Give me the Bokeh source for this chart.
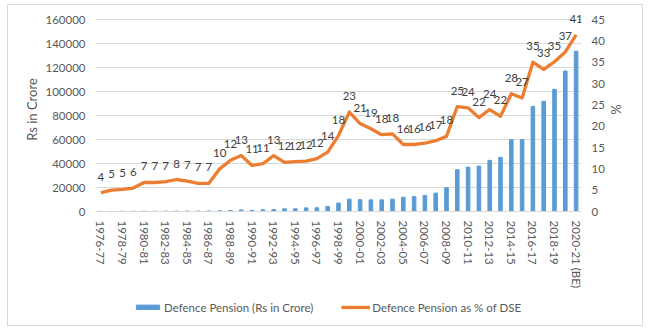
from bokeh.plotting import figure
from bokeh.layouts import column
from bokeh.models import (Range1d, LinearAxis, FixedTicker, Legend, LegendItem,
                          BasicTickFormatter)
from bokeh.core.properties import value
from bokeh.embed import file_html
from bokeh.resources import INLINE

years = ["1976-77", "1977-78", "1978-79", "1979-80", "1980-81", "1981-82", "1982-83",
         "1983-84", "1984-85", "1985-86", "1986-87", "1987-88", "1988-89", "1989-90",
         "1990-91", "1991-92", "1992-93", "1993-94", "1994-95", "1995-96", "1996-97",
         "1997-98", "1998-99", "1999-00", "2000-01", "2001-02", "2002-03", "2003-04",
         "2004-05", "2005-06", "2006-07", "2007-08", "2008-09", "2009-10", "2010-11",
         "2011-12", "2012-13", "2013-14", "2014-15", "2015-16", "2016-17", "2017-18",
         "2018-19", "2019-20", "2020-21 (BE)"]

pension = [120, 140, 160, 180, 210, 240, 270, 310, 360, 400,
           450, 600, 800, 1300, 1000, 1400, 1700, 2200, 2300, 3000,
           3100, 4200, 7000, 10300, 9800, 9700, 9700, 10300, 11900, 12400,
           13400, 15300, 19800, 34800, 37000, 37800, 42600, 45100, 59800, 59900,
           87600, 91800, 101800, 117100, 133600]

pct = [4.4, 5.0, 5.2, 5.5, 6.8, 6.8, 7.0, 7.5, 7.1, 6.6,
       6.6, 10.0, 12.0, 13.1, 10.8, 11.2, 13.1, 11.5, 11.7, 11.8,
       12.4, 13.9, 17.8, 23.3, 20.6, 19.4, 18.0, 18.2, 15.7, 15.7,
       16.0, 16.6, 17.6, 24.6, 24.3, 22.0, 23.9, 22.3, 27.6, 26.6,
       35.0, 33.3, 35.1, 37.4, 41.4]

left_ticks = [0, 20000, 40000, 60000, 80000, 100000, 120000, 140000, 160000]
right_ticks = [0, 5, 10, 15, 20, 25, 30, 35, 40, 45]

pct_labels = [str(int(v + 0.5)) for v in pct]
xpos = list(range(len(years)))

FONT = "Lato"
BLUE = "#5B9BD5"
ORANGE = "#ED7D31"
TXT = "#595959"

LEFT_MAX = 170000
RIGHT_MAX = 45 * LEFT_MAX / 160000

p = figure(width=634, height=288, x_range=Range1d(-0.5, len(years) - 0.5),
           y_range=Range1d(0, LEFT_MAX), output_backend="svg", toolbar_location=None,
           min_border_left=87, min_border_right=61, min_border_top=2, min_border_bottom=82)
p.extra_y_ranges = {"pct": Range1d(0, RIGHT_MAX)}
p.outline_line_color = None
p.background_fill_color = "white"

bars = p.vbar(x=xpos, top=pension, width=0.33, color=BLUE)
line = p.line(x=xpos, y=pct, y_range_name="pct", line_color=ORANGE, line_width=3.3,
              line_join="round")
p.text(x=xpos, y=pct, text=pct_labels, y_range_name="pct", text_align="center",
       text_baseline="middle", y_offset=-16, text_font=value(FONT),
       text_font_size="11.5px", text_color="#404040")

# left axis
ya = p.yaxis[0]
ya.ticker = FixedTicker(ticks=left_ticks)
ya.formatter = BasicTickFormatter(use_scientific=False)
ya.axis_label = "Rs in Crore"
ya.axis_label_text_font = FONT
ya.axis_label_text_font_size = "13px"
ya.axis_label_text_font_style = "normal"
ya.axis_label_text_color = TXT
ya.axis_label_standoff = 2
ya.major_label_text_font = FONT
ya.major_label_text_font_size = "11.5px"
ya.major_label_text_color = TXT
ya.major_label_standoff = 10
ya.axis_line_color = None
ya.major_tick_line_color = None
ya.minor_tick_line_color = None
ya.major_tick_out = 0
ya.minor_tick_out = 0

# right axis
ra = LinearAxis(y_range_name="pct", ticker=FixedTicker(ticks=right_ticks), axis_label="%")
ra.axis_label_text_font = FONT
ra.axis_label_text_font_size = "13px"
ra.axis_label_text_font_style = "normal"
ra.axis_label_text_color = TXT
ra.axis_label_standoff = 0
ra.major_label_text_font = FONT
ra.major_label_text_font_size = "11.5px"
ra.major_label_text_color = TXT
ra.major_label_standoff = 10
ra.axis_line_color = None
ra.major_tick_line_color = None
ra.minor_tick_line_color = None
ra.major_tick_out = 0
ra.minor_tick_out = 0
p.add_layout(ra, "right")

# x axis: every other year labelled
xa = p.xaxis[0]
xa.ticker = FixedTicker(ticks=xpos[::2])
xa.major_label_overrides = {i: years[i] for i in xpos}
xa.major_label_orientation = "vertical"
xa.major_label_text_font = FONT
xa.major_label_text_font_size = "11.5px"
xa.major_label_text_color = TXT
xa.major_label_standoff = 9
xa.axis_line_color = "#d9d9d9"
xa.major_tick_line_color = None
xa.minor_tick_line_color = None
xa.major_tick_out = 0
xa.minor_tick_out = 0

p.xgrid.grid_line_color = None
p.ygrid.ticker = FixedTicker(ticks=left_ticks)
p.ygrid.grid_line_color = "#d9d9d9"

# legend strip below the chart: hidden copies of the two series supply the swatches
lf = figure(width=634, height=32, x_range=Range1d(0, 1), y_range=Range1d(0, 1),
            output_backend="svg", toolbar_location=None, min_border=0,
            x_axis_location=None, y_axis_location=None)
lf.grid.visible = False
lf.outline_line_color = None
lbar = lf.vbar(x=xpos, top=pension, width=0.33, color=BLUE, visible=False)
lline = lf.line(x=xpos, y=pct, line_color=ORANGE, line_width=3.3, visible=False)
legend = Legend(items=[LegendItem(label="Defence Pension (Rs in Crore)", renderers=[lbar]),
                       LegendItem(label="Defence Pension as % of DSE", renderers=[lline])],
                orientation="horizontal", location=(38, 11), glyph_width=29, glyph_height=6,
                label_standoff=2, spacing=28, padding=0, margin=0,
                border_line_color=None, background_fill_alpha=0,
                inactive_fill_alpha=0,
                label_text_font=FONT, label_text_font_size="11.5px",
                label_text_color=TXT, label_height=14)
lf.add_layout(legend)

layout = column(p, lf, spacing=0)
layout.margin = (4, 0, 0, 7)
layout.styles = {"border": "1px solid #d9d9d9"}

open("out.html", "w").write(file_html(layout, INLINE))
